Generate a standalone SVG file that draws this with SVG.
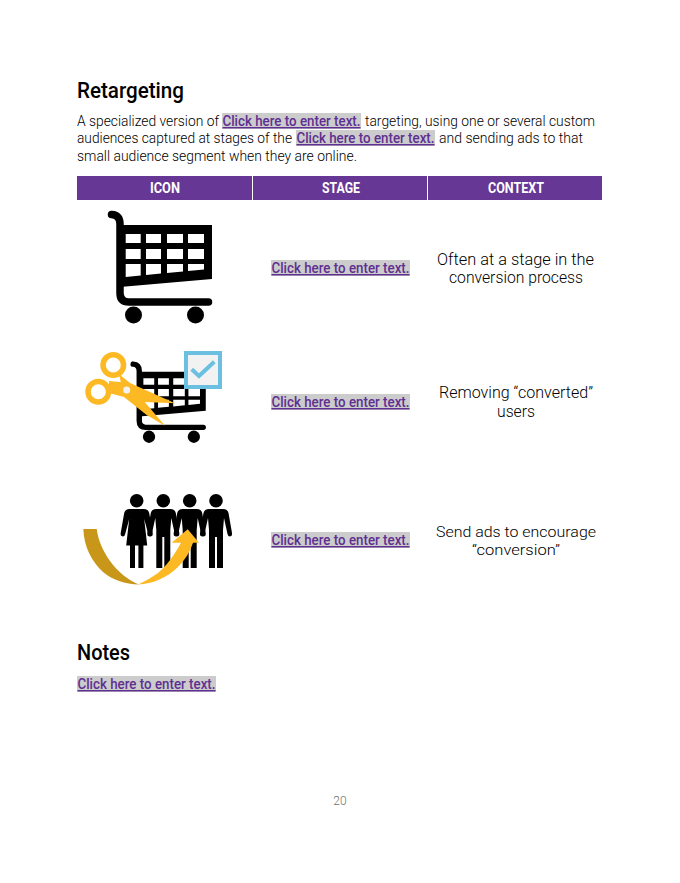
<svg xmlns="http://www.w3.org/2000/svg" xmlns:xlink="http://www.w3.org/1999/xlink" width="680" height="883" viewBox="0 0 680 883">
<style>
text{font-family:Roboto,"Noto Sans","Liberation Sans",sans-serif}
.h{font-size:22px;font-weight:500;fill:#000}
.p{font-size:14px;font-weight:300;fill:#000}
.c{font-size:16.500px;font-weight:300;fill:#000;text-anchor:middle}
.c3{font-size:15.500px}
.l{font-size:14.500px;font-weight:500;fill:#5f2f91;text-decoration:underline}
.th{font-size:14.500px;font-weight:700;fill:#fff;text-anchor:middle}
.hl{fill:#cccccc}
.y{fill:#fdb924}
</style>
<defs>
<g id="cart">
<path d="M111.500 214.500Q120 215 120 224V293Q120 302 129 302H208.500" fill="none" stroke="#000" stroke-width="7.500" stroke-linecap="round"/>
<path fill-rule="evenodd" d="M120 225H212V279L120 287ZM125.700 234V243H140.700V234ZM146 234V243H161V234ZM167 234V243H183V234ZM188 234V243H204V234ZM125.700 249V259H140.700V249ZM146 249V259H161V249ZM167 249V259H183V249ZM188 249V259H204V249ZM125.700 264V277L140.700 275.500V264ZM146 264V275L161 273.500V264ZM167 264V273L183 271.500V264ZM188 264V271L204 269.500V264Z"/>
<circle cx="133.500" cy="315" r="8.500"/>
<circle cx="195.500" cy="315" r="8.500"/>
</g>
<g id="man">
<circle cx="0" cy="500.700" r="6.800"/>
<path d="M-7 509H7Q11.500 509 12.500 513L16 533Q16.500 536 14 536.500Q12 536.500 11.500 534L8 518L7 530V568H1V537H-1V568H-7V530L-8 518L-11.500 534Q-12 536.500 -14 536.500Q-16.500 536 -16 533L-12.500 513Q-11.500 509 -7 509Z"/>
</g>
<g id="woman">
<circle cx="0" cy="500.700" r="6.800"/>
<path d="M-7 509H7Q11.500 509 12.500 513L16 533Q16.500 536 14 536.500Q12 536.500 11.500 534L7.500 519L10.500 545.500H6.700V568H1.700V545.500H-1.700V568H-6.700V545.500H-10.500L-7.500 519L-11.500 534Q-12 536.500 -14 536.500Q-16.500 536 -16 533L-12.500 513Q-11.500 509 -7 509Z"/>
</g>
</defs>
<rect width="680" height="883" fill="#fff"/>

<g id="heading">
<text class="h" x="77" y="98" textLength="107" lengthAdjust="spacingAndGlyphs">Retargeting</text>
</g>

<g id="intro">
<rect class="hl" x="222" y="113" width="139" height="16"/>
<rect class="hl" x="296" y="130" width="139" height="16"/>
<text class="p" x="77" y="126" textLength="142" lengthAdjust="spacingAndGlyphs">A specialized version of</text>
<text class="l" x="222.500" y="126" textLength="138" lengthAdjust="spacingAndGlyphs">Click here to enter text.</text>
<text class="p" x="365" y="126" textLength="230" lengthAdjust="spacingAndGlyphs">targeting, using one or several custom</text>
<text class="p" x="77" y="143" textLength="215" lengthAdjust="spacingAndGlyphs">audiences captured at stages of the</text>
<text class="l" x="296.500" y="143" textLength="138" lengthAdjust="spacingAndGlyphs">Click here to enter text.</text>
<text class="p" x="439" y="143" textLength="144" lengthAdjust="spacingAndGlyphs">and sending ads to that</text>
<text class="p" x="77" y="161" textLength="280" lengthAdjust="spacingAndGlyphs">small audience segment when they are online.</text>
</g>

<g id="table-header">
<rect x="77" y="176" width="525" height="24" fill="#663795"/>
<path d="M252.500 176V200M427.500 176V200" stroke="#fff" stroke-width="1"/>
<text class="th" x="165" y="193" textLength="30" lengthAdjust="spacingAndGlyphs">ICON</text>
<text class="th" x="341" y="193" textLength="38" lengthAdjust="spacingAndGlyphs">STAGE</text>
<text class="th" x="516" y="193" textLength="56" lengthAdjust="spacingAndGlyphs">CONTEXT</text>
</g>

<g id="row-1">
<use xlink:href="#cart" href="#cart"/>
<rect class="hl" x="271" y="260" width="139" height="16"/>
<text class="l" x="271.500" y="273" textLength="138" lengthAdjust="spacingAndGlyphs">Click here to enter text.</text>
<text class="c" x="515.500" y="265" textLength="157" lengthAdjust="spacingAndGlyphs">Often at a stage in the</text>
<text class="c" x="516" y="283" textLength="134" lengthAdjust="spacingAndGlyphs">conversion process</text>
</g>

<g id="row-2">
<use xlink:href="#cart" href="#cart" transform="translate(52.500 209) scale(.723)"/>
<rect x="186" y="353" width="34" height="34" fill="#f2f2f2" stroke="#6bbfe0" stroke-width="4"/>
<path d="M191.700 369.300L199 376L214.300 361.700" fill="none" stroke="#6bbfe0" stroke-width="4"/>
<path class="y" fill-rule="evenodd" d="M113.300 352a13 13 0 1 1 0 26a13 13 0 1 1 0-26ZM113.300 357.500a7.500 7.500 0 1 0 0 15a7.500 7.500 0 1 0 0-15Z"/>
<path class="y" fill-rule="evenodd" d="M98.300 378.700a13 13 0 1 1 0 26a13 13 0 1 1 0-26ZM98.300 384.200a7.500 7.500 0 1 0 0 15a7.500 7.500 0 1 0 0-15Z"/>
<path class="y" d="M119 374L130 383L143 400L165 425.700L146.700 415L124 397Z"/>
<path class="y" d="M109 381L130 383L175 403.300L138 401.700L124 397L109 393Z"/>
<circle cx="126.700" cy="390" r="3.500" fill="#f2f2f2"/>
<rect class="hl" x="271" y="394" width="139" height="16"/>
<text class="l" x="271.500" y="407" textLength="138" lengthAdjust="spacingAndGlyphs">Click here to enter text.</text>
<text class="c" x="516" y="398" textLength="154" lengthAdjust="spacingAndGlyphs">Removing “converted”</text>
<text class="c" x="516" y="417" textLength="38" lengthAdjust="spacingAndGlyphs">users</text>
</g>

<g id="row-3">
<use xlink:href="#woman" href="#woman" x="136.700"/>
<use xlink:href="#man" href="#man" x="163.300"/>
<use xlink:href="#man" href="#man" x="189.700"/>
<use xlink:href="#man" href="#man" x="216"/>
<path fill="#c8971a" d="M83.300 529H96.700C98 540 103 551 110 561C118 572 128 580 139 584.500C125 584 112 580 103 572C92 562 84 547 83.300 529Z"/>
<path class="y" d="M138 584.500C146 581 152 577 158 573C166 566 174 556 181 542.700H171.700L187.700 529.300L199 542.700H193C190 552 185 560 178 567C168 577 153 584 138 584.500Z"/>
<rect class="hl" x="271" y="532" width="139" height="16"/>
<text class="l" x="271.500" y="545" textLength="138" lengthAdjust="spacingAndGlyphs">Click here to enter text.</text>
<text class="c c3" x="516" y="537" textLength="160" lengthAdjust="spacingAndGlyphs">Send ads to encourage</text>
<text class="c c3" x="516" y="554.500" textLength="88" lengthAdjust="spacingAndGlyphs">“conversion”</text>
</g>

<g id="notes">
<text class="h" x="77" y="660" textLength="53" lengthAdjust="spacingAndGlyphs">Notes</text>
<rect class="hl" x="77" y="676" width="139" height="16"/>
<text class="l" x="77.500" y="689" textLength="138" lengthAdjust="spacingAndGlyphs">Click here to enter text.</text>
</g>

<g id="page-number">
<text x="340" y="805" font-size="12" font-weight="300" fill="#707070" text-anchor="middle">20</text>
</g>
</svg>
